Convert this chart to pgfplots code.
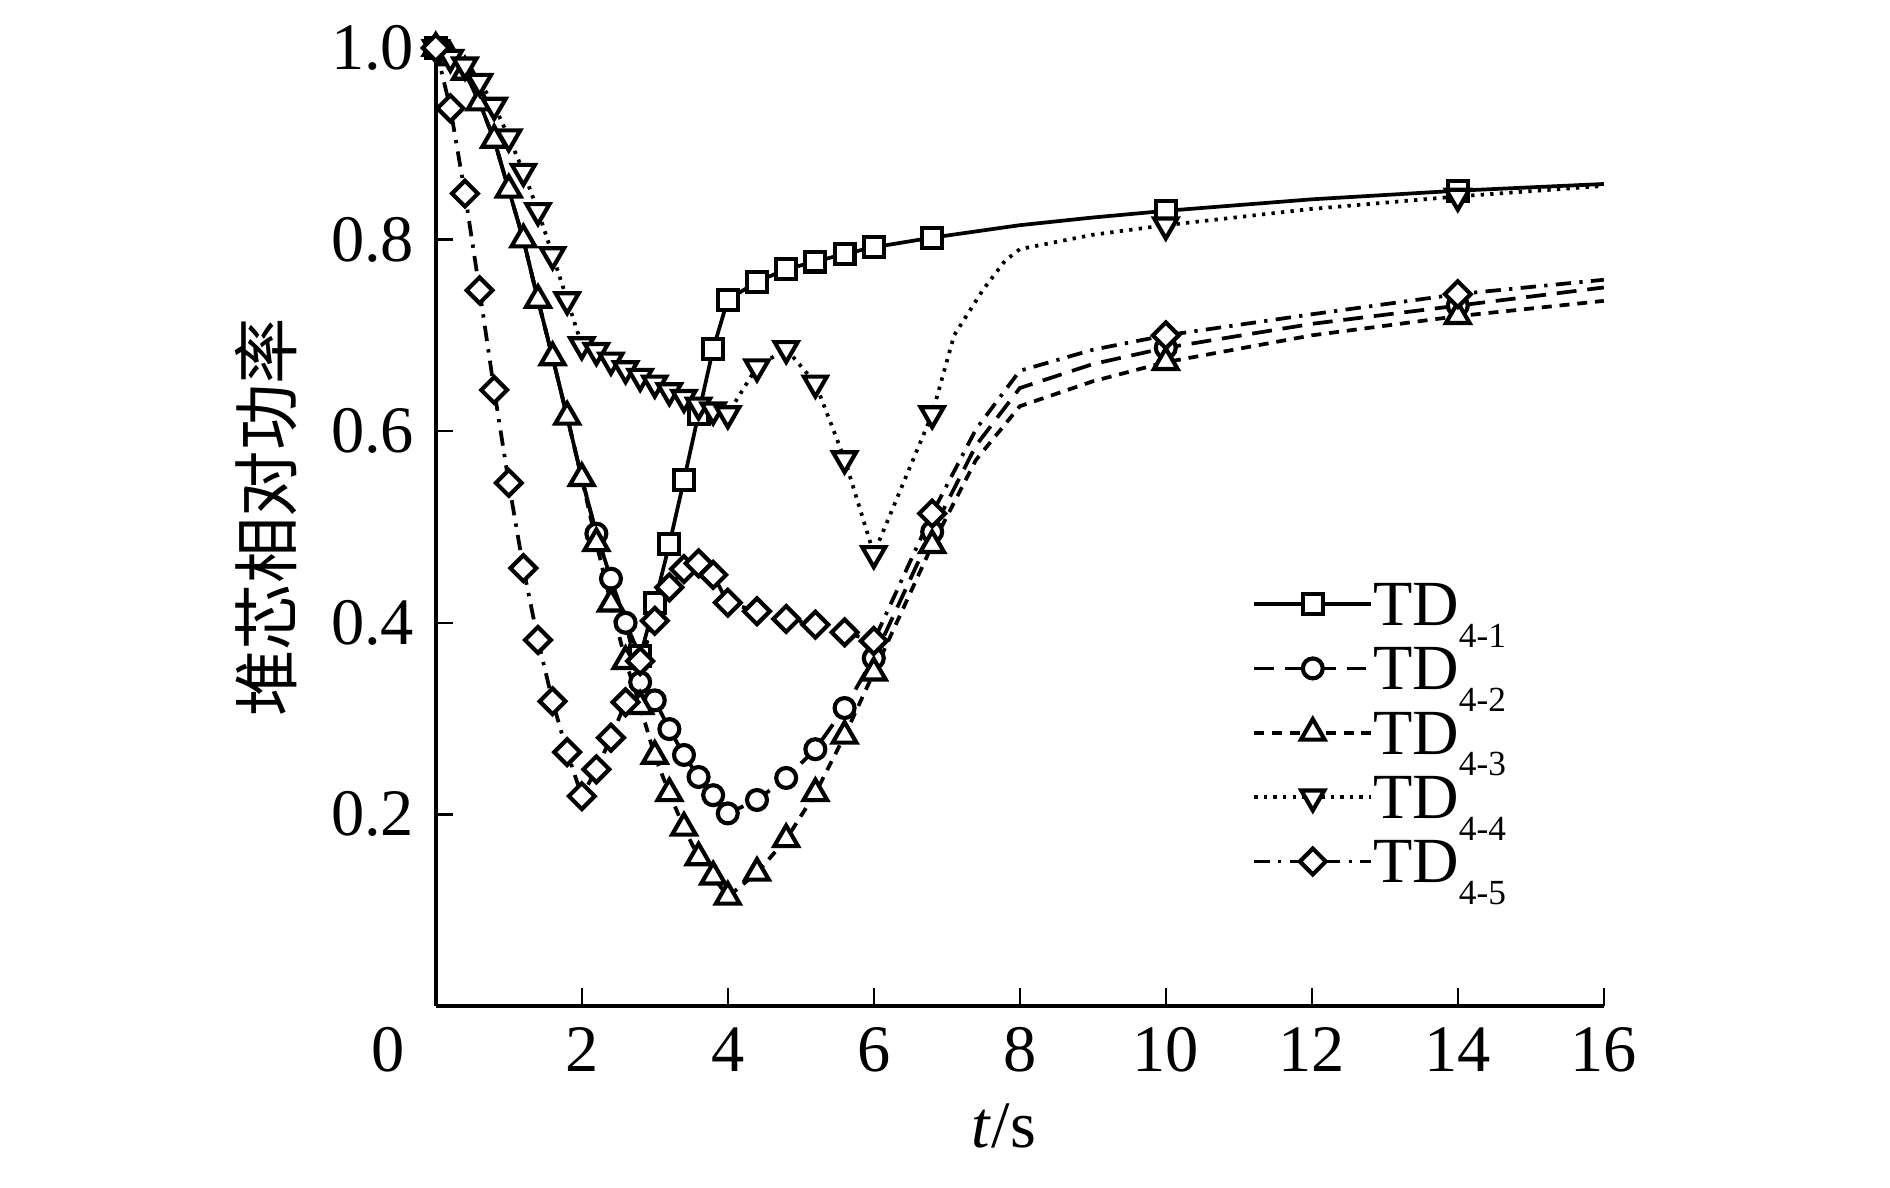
\documentclass[border=0pt]{standalone}
\usepackage{fontspec}
\setmainfont{Liberation Serif}
\newfontfamily\cjk{Noto Sans CJK SC}
\usepackage{pgfplots}
\usepackage{pgfplotstable}
\pgfplotsset{compat=1.18}
\newcommand{\tdsub}[1]{\raisebox{-5.2pt}{\fontsize{8.5}{9}\selectfont #1}}
\pgfplotsset{
 sA/.style={black, line width=0.9pt, solid},
 sB/.style={black, line width=0.9pt, dash pattern=on 4.8pt off 2.6pt},
 sC/.style={black, line width=0.9pt, dash pattern=on 2.4pt off 1.9pt},
 sD/.style={black, line width=0.9pt, dash pattern=on 0.8pt off 1.5pt},
 sE/.style={black, line width=0.9pt, dash pattern=on 3.7pt off 2pt on 0.8pt off 2pt},
 mA/.style={mark=square*, mark size=2.4pt, mark options={solid, fill=white, draw=black, line width=1pt}},
 mB/.style={mark=*, mark size=2.4pt, mark options={solid, fill=white, draw=black, line width=1pt}},
 mC/.style={mark=triangle*, mark size=3.3pt, mark options={solid, fill=white, draw=black, line width=1pt}},
 mD/.style={mark=triangle*, mark size=3.2pt, mark options={solid, fill=white, draw=black, line width=1pt, rotate=180}},
 mE/.style={mark=square*, mark size=2.2pt, mark options={solid, fill=white, draw=black, line width=1pt, rotate=45}},
 legimg/.style={legend image code/.code={\path[draw=none, fill=none] (0cm,-7pt) rectangle (0.99cm,7pt); \draw[mark repeat=2,mark phase=2] plot coordinates {(0cm,0cm) (0.495cm,0cm) (0.99cm,0cm)};}},
 onlym/.style={only marks, restrict expr to domain={\thisrow{m}}{0.5:1.5}, unbounded coords=discard, forget plot},
}

\pgfplotstableread{
x y m
0 1.000 1
0.2 0.990 0
0.4 0.975 0
0.6 0.943 0
0.8 0.904 0
1.0 0.852 0
1.2 0.800 0
1.4 0.737 0
1.6 0.677 0
1.8 0.615 0
2.0 0.551 0
2.2 0.493 0
2.4 0.446 0
2.6 0.400 0
2.8 0.365 1
3.0 0.421 1
3.2 0.482 1
3.4 0.549 1
3.6 0.618 1
3.8 0.686 1
4.0 0.737 1
4.4 0.756 1
4.8 0.769 1
5.2 0.777 1
5.6 0.785 1
6.0 0.792 1
6.8 0.802 1
8 0.815 0
9 0.823 0
10 0.830 1
12 0.842 0
14 0.851 1
16 0.858 0
}\tdA

\pgfplotstableread{
x y m
0 1.000 0
0.2 0.990 0
0.4 0.975 0
0.6 0.943 0
0.8 0.904 0
1.0 0.852 0
1.2 0.800 0
1.4 0.737 0
1.6 0.677 0
1.8 0.615 0
2.0 0.551 0
2.2 0.493 1
2.4 0.446 1
2.6 0.400 1
2.8 0.338 1
3.0 0.319 1
3.2 0.289 1
3.4 0.262 1
3.6 0.239 1
3.8 0.220 1
4.0 0.201 1
4.4 0.215 1
4.8 0.238 1
5.2 0.268 1
5.6 0.311 1
6.0 0.363 1
6.8 0.495 1
7.4 0.585 0
8 0.645 0
9 0.670 0
10 0.687 1
12 0.712 0
14 0.731 1
16 0.750 0
}\tdB

\pgfplotstableread{
x y m
0 1.000 1
0.2 0.990 1
0.4 0.975 1
0.6 0.943 1
0.8 0.904 1
1.0 0.852 1
1.2 0.800 1
1.4 0.737 1
1.6 0.677 1
1.8 0.615 1
2.0 0.551 1
2.2 0.483 1
2.4 0.420 1
2.6 0.360 1
2.8 0.313 1
3.0 0.261 1
3.2 0.222 1
3.4 0.186 1
3.6 0.155 1
3.8 0.135 1
4.0 0.114 1
4.4 0.139 1
4.8 0.174 1
5.2 0.222 1
5.6 0.282 1
6.0 0.348 1
6.8 0.481 1
7.4 0.570 0
8 0.626 0
9 0.652 0
10 0.672 1
12 0.700 0
14 0.720 1
16 0.736 0
}\tdC

\pgfplotstableread{
x y m
0 1.000 1
0.2 0.990 1
0.4 0.982 1
0.6 0.965 1
0.8 0.940 1
1.0 0.907 1
1.2 0.871 1
1.4 0.830 1
1.6 0.784 1
1.8 0.737 1
2.0 0.690 1
2.2 0.684 1
2.4 0.674 1
2.6 0.665 1
2.8 0.657 1
3.0 0.650 1
3.2 0.642 1
3.4 0.635 1
3.6 0.627 1
3.8 0.622 1
4.0 0.618 1
4.4 0.667 1
4.8 0.686 1
5.2 0.650 1
5.6 0.571 1
6.0 0.472 1
6.8 0.618 1
7.1 0.700 0
7.5 0.748 0
7.8 0.778 0
8.0 0.790 0
9 0.805 0
10 0.815 1
12 0.832 0
14 0.845 1
16 0.856 0
}\tdD

\pgfplotstableread{
x y m
0 1.000 1
0.2 0.937 1
0.4 0.848 1
0.6 0.747 1
0.8 0.643 1
1.0 0.546 1
1.2 0.457 1
1.4 0.382 1
1.6 0.318 1
1.8 0.265 1
2.0 0.219 1
2.2 0.247 1
2.4 0.280 1
2.6 0.317 1
2.8 0.360 1
3.0 0.402 1
3.2 0.437 1
3.4 0.456 1
3.6 0.462 1
3.8 0.450 1
4.0 0.421 1
4.4 0.412 1
4.8 0.404 1
5.2 0.398 1
5.6 0.390 1
6.0 0.381 1
6.8 0.514 1
7.4 0.602 0
8.0 0.663 0
9 0.685 0
10 0.700 1
12 0.722 0
14 0.743 1
16 0.758 0
}\tdE

\begin{document}
\begin{tikzpicture}
\useasboundingbox (-3.689cm,-1.541cm) rectangle (12.311cm,8.516cm);
\begin{axis}[
  at={(0,0)}, anchor=south west,
  scale only axis, width=9.888cm, height=8.11cm,
  xmin=0, xmax=16, ymin=0, ymax=1.0,
  axis x line*=bottom, axis y line*=left,
  xtick pos=bottom, ytick pos=left,
  axis line style={line width=0.9pt, black},
  tick align=inside, major tick length=0.15cm,
  tick style={line width=0.6pt, black},
  xtick={2,4,...,16}, ytick={0.2,0.4,0.6,0.8,1.0},
  /pgf/number format/assume math mode=true,
  ticklabel style={font=\fontsize{16}{16}\selectfont},
  xticklabel style={yshift=-1.7pt},
  yticklabel style={xshift=-1.7pt, /pgf/number format/fixed, /pgf/number format/precision=1, /pgf/number format/fixed zerofill},
  clip=false,
  legend cell align=left,
  legend style={at={(0.6985,0.4507)}, anchor=north west, draw=none, fill=none, inner sep=0pt, row sep=1.5pt,
    nodes={inner sep=0pt, text height=10.3pt, text depth=0pt, font=\fontsize{15.5}{16}\selectfont}},
]
\addplot[sA, no marks, forget plot] table[x=x,y=y] {\tdA};
\addplot[sA, mA, onlym] table[x=x,y=y] {\tdA};
\addplot[sB, no marks, forget plot] table[x=x,y=y] {\tdB};
\addplot[sB, mB, onlym] table[x=x,y=y] {\tdB};
\addplot[sC, no marks, forget plot] table[x=x,y=y] {\tdC};
\addplot[sC, mC, onlym] table[x=x,y=y] {\tdC};
\addplot[sD, no marks, forget plot] table[x=x,y=y] {\tdD};
\addplot[sD, mD, onlym] table[x=x,y=y] {\tdD};
\addplot[sE, no marks, forget plot] table[x=x,y=y] {\tdE};
\addplot[sE, mE, onlym] table[x=x,y=y] {\tdE};

\addlegendimage{sA, mA, legimg}
\addlegendentry{TD\tdsub{4-1}}
\addlegendimage{sB, mB, legimg}
\addlegendentry{TD\tdsub{4-2}}
\addlegendimage{sC, mC, legimg}
\addlegendentry{TD\tdsub{4-3}}
\addlegendimage{sD, mD, legimg}
\addlegendentry{TD\tdsub{4-4}}
\addlegendimage{sE, mE, legimg}
\addlegendentry{TD\tdsub{4-5}}

\node[font=\fontsize{16}{16}\selectfont, anchor=north, inner sep=0.333em] at ([xshift=-0.405cm, yshift=-1.7pt]rel axis cs:0,0) {0};
\node[font=\fontsize{16}{16}\selectfont, anchor=base] at ([yshift=-1.202cm]rel axis cs:0.4865,0) {\textit{t}/s};
\node[font=\cjk\fontsize{16}{16}\selectfont, rotate=90] at ([xshift=-1.44cm]rel axis cs:0,0.51) {堆芯相对功率};
\end{axis}
\end{tikzpicture}
\end{document}
